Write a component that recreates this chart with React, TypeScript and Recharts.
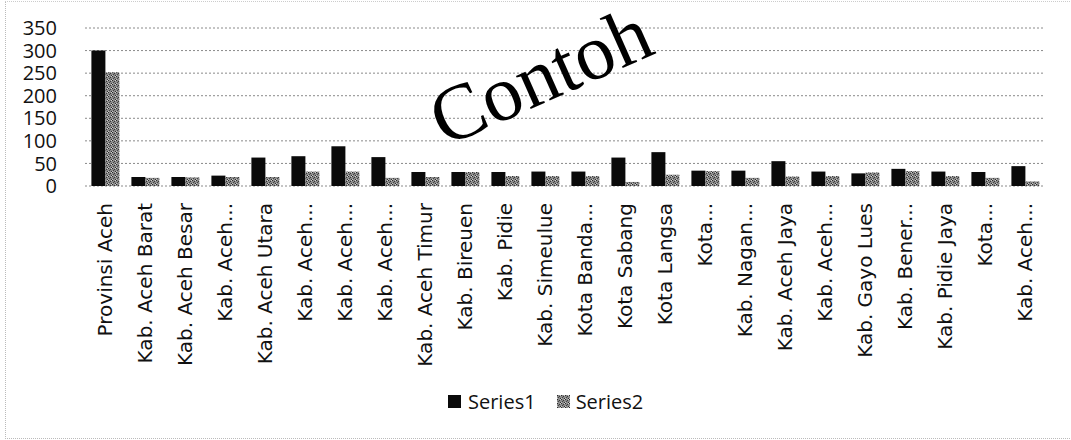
import React from "react";
import { BarChart, Bar, XAxis, YAxis, CartesianGrid, Legend } from "recharts";

const categories = [
  "Provinsi Aceh", "Kab. Aceh Barat", "Kab. Aceh Besar", "Kab. Aceh...", "Kab. Aceh Utara",
  "Kab. Aceh...", "Kab. Aceh...", "Kab. Aceh...", "Kab. Aceh Timur", "Kab. Bireuen",
  "Kab. Pidie", "Kab. Simeulue", "Kota Banda...", "Kota Sabang", "Kota Langsa",
  "Kota...", "Kab. Nagan...", "Kab. Aceh Jaya", "Kab. Aceh...", "Kab. Gayo Lues",
  "Kab. Bener...", "Kab. Pidie Jaya", "Kota...", "Kab. Aceh...",
];
const series1 = [300, 20, 20, 23, 63, 66, 88, 64, 31, 31, 31, 32, 32, 63, 75, 34, 34, 55, 32, 28, 38, 32, 31, 44];
const series2 = [252, 18, 19, 20, 20, 32, 32, 18, 20, 31, 22, 22, 22, 9, 25, 33, 18, 21, 22, 30, 33, 22, 18, 10];
const yTicks = [0, 50, 100, 150, 200, 250, 300, 350];
const seriesNames = ["Series1", "Series2"];

const data = categories.map((c, i) => ({ idx: i, name: c, s1: series1[i], s2: series2[i] }));

const FONT = "'Open Sans', 'Noto Sans', sans-serif";
const XFONT = "'DejaVu Sans', 'Open Sans', sans-serif";

const XTick = (props: any) => {
  const { x, y, payload } = props;
  const label = categories[payload.value] ?? "";
  const tx = x + 7;
  const ty = y + 9;
  return (
    <text
      x={tx}
      y={ty}
      transform={`rotate(-90, ${tx}, ${ty})`}
      textAnchor="end"
      fontFamily={XFONT}
      fontSize={20}
      fill="#111"
    >
      {label}
    </text>
  );
};

const LegendContent = () => (
  <div style={{ display: "flex", alignItems: "center", fontFamily: FONT, fontSize: 20, color: "#111" }}>
    <svg width={13} height={13} style={{ marginRight: 7 }}>
      <rect width={13} height={13} fill="#0a0a0a" />
    </svg>
    <span style={{ marginRight: 21 }}>{seriesNames[0]}</span>
    <svg width={13} height={13} style={{ marginRight: 6 }}>
      <rect width={13} height={13} fill="url(#s2pat)" />
    </svg>
    <span>{seriesNames[1]}</span>
  </div>
);

export default function App() {
  return (
    <div
      style={{
        position: "absolute",
        left: 0,
        top: 0,
        width: 1071,
        height: 440,
        background: "#fff",
      }}
    >
      <div
        style={{
          position: "absolute",
          left: 5,
          top: 1,
          width: 1064,
          height: 436,
          borderLeft: "1px dotted #bbb",
          borderTop: "1px dotted #ccc",
          borderBottom: "1px dotted #bbb",
        }}
      />
      <BarChart
        width={1071}
        height={440}
        data={data}
        margin={{ top: 28, right: 26, bottom: 0, left: 0 }}
        barCategoryGap="16%"
        barGap={0}
      >
        <defs>
          <pattern id="s2pat" width="4" height="4" patternUnits="userSpaceOnUse">
            <rect width="4" height="4" fill="#8a8a8a" />
            <rect x="0" y="0" width="1" height="1" fill="#2a2a2a" />
            <rect x="2" y="1" width="1" height="1" fill="#383838" />
            <rect x="1" y="2" width="1" height="1" fill="#454545" />
            <rect x="3" y="3" width="1" height="1" fill="#2f2f2f" />
            <rect x="3" y="0" width="1" height="1" fill="#d0d0d0" />
            <rect x="0" y="3" width="1" height="1" fill="#c4c4c4" />
          </pattern>
        </defs>
        <CartesianGrid vertical={false} stroke="#8a8a8a" strokeDasharray="2 2" />
        <XAxis
          dataKey="idx"
          type="category"
          interval={0}
          height={200}
          axisLine={false}
          tickLine={false}
          tick={<XTick />}
        />
        <YAxis
          domain={[0, 350]}
          ticks={yTicks}
          width={85}
          axisLine={false}
          tickLine={false}
          tickMargin={22}
          tick={{ fontFamily: FONT, fontSize: 20, fill: "#111" }}
          interval={0}
        />
        <Legend
          verticalAlign="bottom"
          height={54}
          content={<LegendContent />}
          wrapperStyle={{ left: 448, top: 388, width: 240 }}
        />
        <Bar dataKey="s1" name={seriesNames[0]} fill="#0a0a0a" isAnimationActive={false} />
        <Bar dataKey="s2" name={seriesNames[1]} fill="url(#s2pat)" isAnimationActive={false} />
        <text
          x={551}
          y={100}
          transform="rotate(-24, 551, 100)"
          textAnchor="middle"
          fontFamily="'Liberation Serif', 'DejaVu Serif', serif"
          fontSize={79}
          fill="#000"
        >
          Contoh
        </text>
      </BarChart>
    </div>
  );
}
